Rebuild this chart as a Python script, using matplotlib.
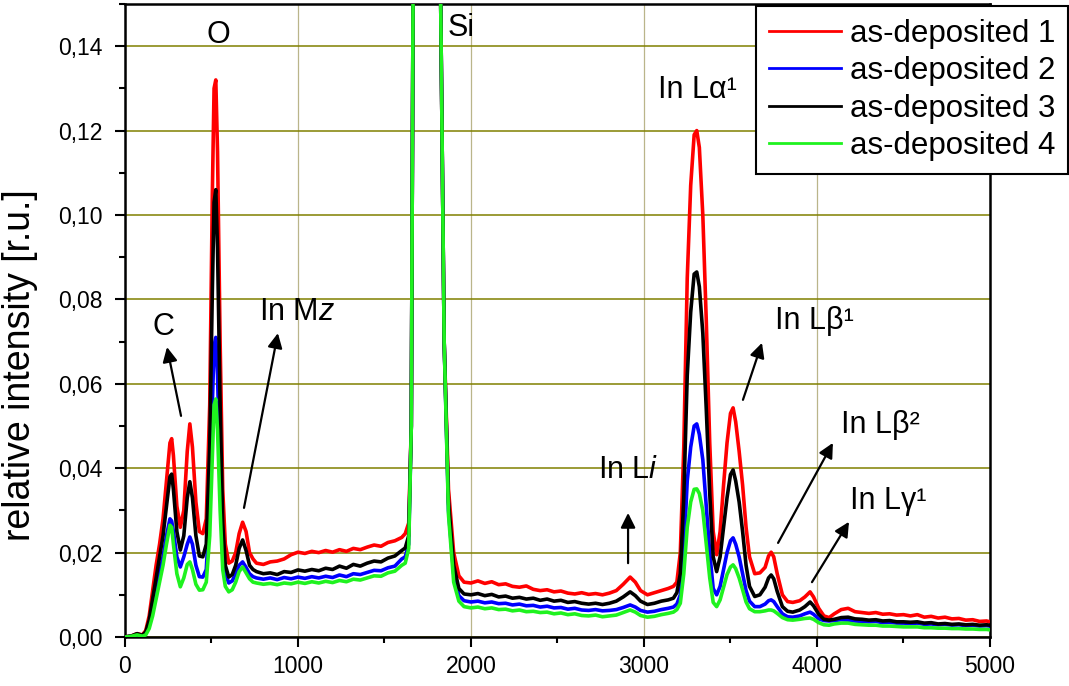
import matplotlib
matplotlib.use("Agg")
import matplotlib.pyplot as plt
from matplotlib.ticker import MultipleLocator, FuncFormatter

plt.rcParams["font.family"] = ["Liberation Sans", "DejaVu Sans"]
plt.rcParams["mathtext.fontset"] = "custom"
plt.rcParams["mathtext.rm"] = "Liberation Sans"
plt.rcParams["mathtext.it"] = "Liberation Sans:italic"

# energy axis (eV), denser sampling around the peaks
energy = [
    0, 40, 70, 100, 120, 140, 160, 180, 200, 220, 240, 260, 270, 280, 300, 320, 340,
    360, 375, 390, 410, 430, 450, 470, 490, 505, 515, 525, 535, 550, 565, 580, 600,
    620, 640, 660, 680, 700, 720, 740, 760,
    800, 840, 880, 920, 960, 1000, 1040, 1080, 1120, 1160, 1200, 1240, 1280, 1320,
    1360, 1400, 1440, 1480, 1520, 1560, 1600,
    1620, 1640, 1655, 1665, 1680, 1740, 1800, 1825, 1845, 1870, 1900, 1930, 1960,
    2000, 2040, 2080, 2120, 2160, 2200, 2240, 2280, 2320, 2360, 2400, 2440, 2480,
    2520, 2560, 2600, 2640, 2680, 2720, 2760, 2800,
    2840, 2880, 2920, 2950, 2980, 3020, 3060, 3100, 3140, 3170,
    3190, 3210, 3230, 3250, 3270, 3290, 3305, 3320, 3340, 3360, 3380, 3400, 3420,
    3440, 3460, 3480, 3500, 3515, 3530, 3550, 3570, 3590, 3610,
    3640, 3670, 3700, 3720, 3735, 3750, 3770, 3800, 3830, 3860, 3900, 3930, 3960,
    3980, 4010, 4040, 4070,
    4100, 4140, 4180, 4220, 4260, 4300, 4340, 4380, 4420, 4460, 4500, 4540, 4580,
    4620, 4660, 4700, 4740, 4780, 4820, 4860, 4900, 4940, 4980, 5000,
]

as_dep_1 = [
    0.0, 0.0003, 0.0008, 0.0005, 0.0015, 0.005, 0.011, 0.017, 0.022, 0.028, 0.037, 0.046, 0.047,
    0.043, 0.031, 0.026, 0.030, 0.044, 0.0505, 0.045, 0.032, 0.025, 0.0245, 0.028, 0.055, 0.105,
    0.130, 0.132, 0.115, 0.070, 0.035, 0.022, 0.0175,
    0.018, 0.020, 0.0245, 0.0272, 0.025, 0.020, 0.0185, 0.0175,
    0.0172, 0.0178, 0.0180, 0.0185, 0.0195, 0.0201, 0.0198, 0.0203, 0.0200, 0.0205, 0.0201,
    0.0207, 0.0203, 0.0210, 0.0207, 0.0213, 0.0218, 0.0215, 0.0224, 0.0228, 0.0236,
    0.0245, 0.027, 0.05, 0.15, 0.35, 0.6, 0.35, 0.15, 0.07, 0.035, 0.020, 0.0145, 0.013,
    0.0128, 0.0133, 0.0127, 0.0131, 0.0124, 0.0126, 0.0120, 0.0118, 0.0121, 0.0113, 0.0110,
    0.0112, 0.0107, 0.0109, 0.0104, 0.0102, 0.0105, 0.0101, 0.0103, 0.0100, 0.0104,
    0.0110, 0.0125, 0.0142, 0.0130, 0.0110, 0.0100, 0.0105, 0.0110, 0.0115, 0.0120,
    0.013, 0.020, 0.045, 0.085, 0.107, 0.119, 0.120, 0.116, 0.100, 0.075, 0.046, 0.025, 0.0195,
    0.025, 0.036, 0.046, 0.053, 0.0543, 0.051, 0.044, 0.036, 0.026, 0.019,
    0.0150, 0.0152, 0.0165, 0.0192, 0.0201, 0.019, 0.015, 0.0100, 0.0084, 0.0082, 0.0086,
    0.0095, 0.0107, 0.0095, 0.0068, 0.0050, 0.0046,
    0.0055, 0.0065, 0.0068, 0.0060, 0.0058, 0.0056, 0.0058, 0.0054, 0.0055, 0.0052, 0.0053,
    0.0050, 0.0053, 0.0047, 0.0049, 0.0045, 0.0047, 0.0043, 0.0044, 0.0040, 0.0041, 0.0037,
    0.0038, 0.0036,
]

as_dep_2 = [
    0.0, 0.0002, 0.0006, 0.0003, 0.0008, 0.003, 0.007, 0.011, 0.015, 0.019, 0.024, 0.028, 0.0275,
    0.025, 0.019, 0.0166, 0.019, 0.022, 0.0237, 0.022, 0.017, 0.0143, 0.0142, 0.016, 0.031, 0.055,
    0.069, 0.071, 0.062, 0.038, 0.020, 0.015, 0.0128,
    0.0133, 0.0150, 0.0170, 0.0178, 0.0165, 0.0150, 0.0143, 0.0140,
    0.0137, 0.0140, 0.0136, 0.0141, 0.0138, 0.0142, 0.0139, 0.0143, 0.0140, 0.0144, 0.0141,
    0.0147, 0.0143, 0.0150, 0.0148, 0.0153, 0.0158, 0.0157, 0.0164, 0.0168, 0.0185,
    0.0190, 0.022, 0.05, 0.15, 0.35, 0.6, 0.35, 0.15, 0.07, 0.030, 0.015, 0.0098, 0.0086,
    0.0083, 0.0085, 0.0081, 0.0083, 0.0079, 0.0080, 0.0076, 0.0078, 0.0074, 0.0075, 0.0071,
    0.0073, 0.0069, 0.0070, 0.0066, 0.0068, 0.0064, 0.0063, 0.0065, 0.0062, 0.0063,
    0.0065, 0.0070, 0.0076, 0.0071, 0.0063, 0.0059, 0.0061, 0.0065, 0.0068, 0.0071,
    0.0078, 0.010, 0.020, 0.037, 0.045, 0.050, 0.0505, 0.048, 0.042, 0.031, 0.020, 0.0115, 0.0100,
    0.012, 0.016, 0.020, 0.0228, 0.0235, 0.022, 0.019, 0.015, 0.011, 0.0085,
    0.0072, 0.0072, 0.0078, 0.0086, 0.0088, 0.0084, 0.0072, 0.0055, 0.0048, 0.0047, 0.0050,
    0.0055, 0.0059, 0.0054, 0.0043, 0.0039, 0.0038,
    0.0039, 0.0041, 0.0040, 0.0038, 0.0037, 0.0036, 0.0037, 0.0034, 0.0035, 0.0033, 0.0033,
    0.0032, 0.0033, 0.0030, 0.0031, 0.0029, 0.0030, 0.0028, 0.0029, 0.0027, 0.0028, 0.0026,
    0.0027, 0.0026,
]

as_dep_3 = [
    0.0, 0.0003, 0.0008, 0.0004, 0.0012, 0.004, 0.009, 0.014, 0.019, 0.024, 0.031, 0.038, 0.0386,
    0.035, 0.025, 0.0206, 0.024, 0.033, 0.0368, 0.033, 0.024, 0.0192, 0.019, 0.022, 0.045, 0.082,
    0.103, 0.106, 0.092, 0.055, 0.027, 0.017, 0.0142,
    0.0148, 0.0170, 0.0210, 0.0230, 0.0205, 0.0170, 0.0160, 0.0155,
    0.0150, 0.0152, 0.0148, 0.0155, 0.0153, 0.0159, 0.0156, 0.0160, 0.0157, 0.0163, 0.0160,
    0.0168, 0.0163, 0.0172, 0.0168, 0.0175, 0.0180, 0.0178, 0.0187, 0.0192, 0.0205,
    0.0211, 0.024, 0.05, 0.15, 0.35, 0.6, 0.35, 0.15, 0.07, 0.032, 0.017, 0.0115, 0.0102,
    0.0100, 0.0103, 0.0098, 0.0101, 0.0095, 0.0097, 0.0092, 0.0094, 0.0090, 0.0092, 0.0087,
    0.0090, 0.0085, 0.0087, 0.0082, 0.0084, 0.0080, 0.0078, 0.0080, 0.0077, 0.0080,
    0.0085, 0.0095, 0.0107, 0.0098, 0.0085, 0.0077, 0.0080, 0.0085, 0.0088, 0.0092,
    0.0105, 0.015, 0.033, 0.062, 0.077, 0.086, 0.0865, 0.083, 0.072, 0.054, 0.034, 0.019, 0.0155,
    0.019, 0.026, 0.033, 0.0385, 0.0396, 0.037, 0.032, 0.025, 0.017, 0.012,
    0.0096, 0.0100, 0.0118, 0.0140, 0.0147, 0.0138, 0.0108, 0.0072, 0.0061, 0.0059, 0.0064,
    0.0072, 0.0083, 0.0074, 0.0054, 0.0042, 0.0040,
    0.0042, 0.0046, 0.0047, 0.0043, 0.0042, 0.0040, 0.0041, 0.0038, 0.0039, 0.0036, 0.0036,
    0.0035, 0.0036, 0.0033, 0.0034, 0.0031, 0.0032, 0.0030, 0.0031, 0.0029, 0.0030, 0.0028,
    0.0029, 0.0028,
]

as_dep_4 = [
    0.0, 0.0002, 0.0005, 0.0002, 0.0005, 0.002, 0.005, 0.009, 0.013, 0.017, 0.022, 0.0265, 0.026,
    0.022, 0.015, 0.0119, 0.014, 0.0172, 0.0178, 0.016, 0.0125, 0.0111, 0.0112, 0.013, 0.024, 0.043,
    0.055, 0.0564, 0.049, 0.030, 0.016, 0.0120, 0.0107,
    0.0112, 0.0130, 0.0155, 0.0166, 0.0152, 0.0138, 0.0130, 0.0128,
    0.0125, 0.0127, 0.0124, 0.0128, 0.0126, 0.0130, 0.0127, 0.0131, 0.0128, 0.0132, 0.0129,
    0.0134, 0.0131, 0.0137, 0.0135, 0.0140, 0.0145, 0.0144, 0.0152, 0.0156, 0.0170,
    0.0175, 0.021, 0.05, 0.15, 0.35, 0.6, 0.35, 0.15, 0.07, 0.029, 0.013, 0.0085, 0.0072,
    0.0069, 0.0071, 0.0067, 0.0069, 0.0065, 0.0066, 0.0062, 0.0064, 0.0060, 0.0061, 0.0058,
    0.0059, 0.0055, 0.0057, 0.0053, 0.0055, 0.0051, 0.0050, 0.0052, 0.0048, 0.0050,
    0.0052, 0.0058, 0.0064, 0.0059, 0.0051, 0.0047, 0.0049, 0.0053, 0.0056, 0.0059,
    0.0065, 0.008, 0.015, 0.026, 0.032, 0.035, 0.0351, 0.034, 0.030, 0.022, 0.014, 0.0082, 0.0072,
    0.0088, 0.0118, 0.0148, 0.0166, 0.0171, 0.0162, 0.0140, 0.0112, 0.0083, 0.0067,
    0.0060, 0.0060, 0.0062, 0.0064, 0.0064, 0.0062, 0.0056, 0.0046, 0.0041, 0.0040, 0.0042,
    0.0044, 0.0045, 0.0042, 0.0034, 0.0029, 0.0028,
    0.0031, 0.0033, 0.0033, 0.0030, 0.0029, 0.0028, 0.0028, 0.0026, 0.0026, 0.0025, 0.0024,
    0.0024, 0.0024, 0.0022, 0.0022, 0.0021, 0.0021, 0.0020, 0.0020, 0.0019, 0.0019, 0.0018,
    0.0018, 0.0017,
]

series = [
    ("as-deposited 1", as_dep_1, "#ff0000"),
    ("as-deposited 2", as_dep_2, "#0000ff"),
    ("as-deposited 3", as_dep_3, "#000000"),
    ("as-deposited 4", as_dep_4, "#1ff21f"),
]

# peak labels: text, x, y (baseline), horizontal alignment
peak_labels = [
    ("C", 220, 0.0716, "center"),
    ("O", 538, 0.1408, "center"),
    ("Si", 1867, 0.1424, "left"),
    ("In M$z$", 775, 0.0751, "left"),
    ("In L$i$", 2734, 0.0377, "left"),
    ("In Lα¹", 3081, 0.1277, "left"),
    ("In Lβ¹", 3757, 0.0730, "left"),
    ("In Lβ²", 4139, 0.0484, "left"),
    ("In Lγ¹", 4191, 0.0303, "left"),
]

# arrows: (tail x, tail y) -> (head x, head y)
arrows = [
    ((324, 0.0524), (243, 0.0687)),
    ((688, 0.0306), (884, 0.0720)),
    ((2908, 0.0175), (2908, 0.0294)),
    ((3572, 0.0562), (3682, 0.0697)),
    ((3775, 0.0223), (4092, 0.0460)),
    ((3971, 0.0130), (4185, 0.0273)),
]

fig = plt.figure(figsize=(10.69, 6.86), dpi=100)
ax = fig.add_axes([0.1169, 0.0714, 0.8092, 0.9228])

handles = []
for label, values, color in series:
    (line,) = ax.plot(energy, values, color=color, lw=2.6, label=label, zorder=3)
    handles.append(line)

ax.set_xlim(0, 5000)
ax.set_ylim(0, 0.15)
ax.xaxis.set_major_locator(MultipleLocator(1000))
ax.xaxis.set_minor_locator(MultipleLocator(500))
ax.yaxis.set_major_locator(MultipleLocator(0.02))
ax.yaxis.set_minor_locator(MultipleLocator(0.01))
ax.yaxis.set_major_formatter(FuncFormatter(lambda v, _: f"{v:.2f}".replace(".", ",")))

ax.set_axisbelow(True)
ax.yaxis.grid(True, color="#808000", lw=1.1)
ax.xaxis.grid(True, color="#bab58a", lw=0.9)

for spine in ax.spines.values():
    spine.set_linewidth(1.8)
ax.tick_params(which="major", direction="out", length=7, width=1.5, labelsize=16.5, pad=6)
ax.tick_params(axis="y", which="major", pad=9)
ax.tick_params(which="minor", direction="out", length=4.5, width=1.5)

ax.set_ylabel("relative intensity [r.u.]", fontsize=27)
ax.yaxis.set_label_coords(-0.100, 0.43)

for text, x, y, ha in peak_labels:
    ax.text(x, y, text, fontsize=22, ha=ha, va="baseline", zorder=5)

for tail, head in arrows:
    ax.annotate(
        "",
        xy=head,
        xytext=tail,
        arrowprops=dict(arrowstyle="-|>", color="black", lw=1.6, mutation_scale=22,
                        shrinkA=0, shrinkB=0),
        zorder=5,
    )

leg = fig.legend(
    handles=handles,
    loc="upper right",
    bbox_to_anchor=(0.999, 0.991),
    fontsize=22.5,
    frameon=True,
    fancybox=False,
    framealpha=1,
    edgecolor="black",
    handlelength=2.3,
    handletextpad=0.3,
    labelspacing=0.24,
    borderpad=0.4,
    borderaxespad=0,
)
leg.get_frame().set_linewidth(1.5)
for h in leg.legend_handles:
    h.set_linewidth(2.0)

fig.savefig("out.png", dpi=100)
